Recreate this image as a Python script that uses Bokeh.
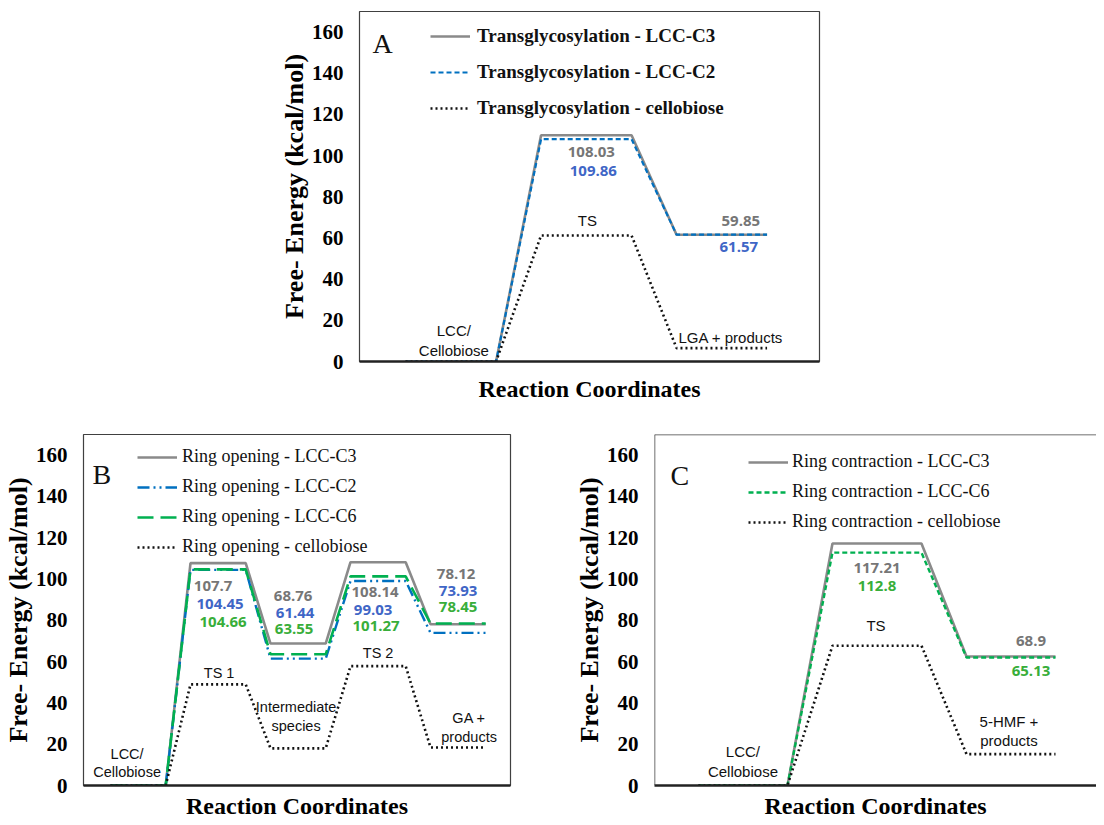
from bokeh.plotting import figure
from bokeh.models import (Range1d, FixedTicker, Legend, LegendItem, Label,
                          ColumnDataSource, Span, Spacer)
from bokeh.layouts import column, row
from bokeh.embed import file_html
from bokeh.resources import INLINE
from bokeh.core.properties import value

# ---------------- data ----------------
Y_TICKS = [0, 20, 40, 60, 80, 100, 120, 140, 160]

# Panel A : Transglycosylation
A_states = ["LCC/\nCellobiose", "TS", "LGA + products"]
A_c3 = [0, 109.9, 61.6]
A_c2 = [0, 108.0, 61.6]
A_cel = [0, 61.2, 6.5]
A_names = ["Transglycosylation - LCC-C3", "Transglycosylation - LCC-C2",
           "Transglycosylation - cellobiose"]
A_val_text = ["108.03", "109.86", "59.85", "61.57"]
A_val_state = [1, 1, 2, 2]
A_val_series = ["c3", "c2", "c3", "c2"]

# Panel B : Ring opening
B_states = ["LCC/\nCellobiose", "TS 1", "Intermediate\nspecies", "TS 2", "GA +\nproducts"]
B_c3 = [0, 107.7, 68.76, 108.14, 78.12]
B_c2 = [0, 104.45, 61.44, 99.03, 73.93]
B_c6 = [0, 104.66, 63.55, 101.27, 78.45]
B_cel = [0, 49.0, 18.0, 57.8, 18.4]
B_names = ["Ring opening - LCC-C3", "Ring opening - LCC-C2",
           "Ring opening - LCC-C6", "Ring opening - cellobiose"]
B_val_text = ["107.7", "104.45", "104.66", "68.76", "61.44", "63.55",
              "108.14", "99.03", "101.27", "78.12", "73.93", "78.45"]
B_val_state = [1, 1, 1, 2, 2, 2, 3, 3, 3, 4, 4, 4]
B_val_series = ["c3", "c2", "c6"] * 4

# Panel C : Ring contraction
C_states = ["LCC/\nCellobiose", "TS", "5-HMF +\nproducts"]
C_c3 = [0, 117.21, 62.5]
C_c6 = [0, 112.8, 62.0]
C_cel = [0, 67.7, 15.2]
C_names = ["Ring contraction - LCC-C3", "Ring contraction - LCC-C6",
           "Ring contraction - cellobiose"]
C_val_text = ["117.21", "112.8", "68.9", "65.13"]
C_val_state = [1, 1, 2, 2]
C_val_series = ["c3", "c6", "c3", "c6"]

# ---------------- styles / layout ----------------
GRAY, BLUE, GREEN, BLACK = "#8a8a8a", "#0070C0", "#00B050", "#111111"
TXT = {"c3": "#767676", "c2": "#3F66C6", "c6": "#38AE3A"}
SERIF = "Liberation Serif"
SANS = "Liberation Sans"

A_val_off = [(5, 17), (7, 36), (19, -14), (17, 12.5)]
A_ann_off = [(3, -21), (1, -15), (9, -11)]
B_val_off = [(-5, 23), (2, 41), (5, 59), (-5, -48), (-3, -31), (-4, -15),
             (-3, 30), (-5, 48), (-2, 64), (-2, -50), (0, -33), (0, -17)]
B_ann_off = [(-11, -22.5), (1, -11), (-2, -32), (0, -13), (11, -20)]
C_val_off = [(0, 25), (0, 43), (20, -15), (20, 15)]
C_ann_off = [(0, -24), (-1, -20), (-2, -23)]


def steps(vals, w):
    xs, ys = [], []
    for i, v in enumerate(vals):
        xs += [i, i + w]
        ys += [v, v]
    return xs, ys


def make_fig(fw, fh, xr, ml, mr, mt, mb, xls):
    p = figure(frame_width=fw, frame_height=fh, x_range=Range1d(*xr),
               y_range=Range1d(0, 170), min_border_left=ml, min_border_right=mr,
               min_border_top=mt, min_border_bottom=mb, output_backend="svg",
               toolbar_location=None, tools="")
    p.xgrid.visible = False
    p.ygrid.visible = False
    ya = p.yaxis[0]
    ya.ticker = FixedTicker(ticks=Y_TICKS)
    ya.major_label_text_font = SERIF
    ya.major_label_text_font_style = "bold"
    ya.major_label_text_font_size = "21px"
    ya.major_label_text_color = "black"
    ya.major_tick_line_color = None
    ya.minor_tick_line_color = None
    ya.major_tick_out = 0
    ya.major_tick_in = 0
    ya.axis_line_color = None
    ya.major_label_standoff = 16
    ya.axis_label = "Free- Energy (kcal/mol)"
    ya.axis_label_text_font = SERIF
    ya.axis_label_text_font_style = "bold"
    ya.axis_label_text_font_size = "26px"
    ya.axis_label_text_color = "black"
    ya.axis_label_standoff = 0
    xa = p.xaxis[0]
    xa.ticker = FixedTicker(ticks=[])
    xa.major_tick_line_color = None
    xa.minor_tick_line_color = None
    xa.major_tick_out = 0
    xa.major_tick_in = 0
    xa.major_label_standoff = 0
    xa.axis_line_width = 2.5
    xa.axis_line_color = "#222222"
    xa.axis_label = "Reaction Coordinates"
    xa.axis_label_text_font = SERIF
    xa.axis_label_text_font_style = "bold"
    xa.axis_label_text_font_size = "24px"
    xa.axis_label_text_color = "black"
    xa.axis_label_standoff = xls
    p.outline_line_color = "#404040"
    p.outline_line_width = 1.2
    return p


def add_series(p, vals, w, color, dash, width):
    xs, ys = steps(vals, w)
    return p.line(xs, ys, line_color=color, line_dash=dash, line_width=width)


def add_values(p, texts, states, series, top_vals, w, offs):
    src = ColumnDataSource(dict(
        x=[s + w / 2 for s in states],
        y=[top_vals[s] for s in states],
        t=texts,
        c=[TXT[k] for k in series],
        dx=[o[0] for o in offs],
        dy=[o[1] for o in offs]))
    p.text(x="x", y="y", text="t", source=src, text_color="c",
           x_offset="dx", y_offset="dy", text_font=value("Open Sans"),
           text_font_style="bold", text_font_size="15px",
           text_align="center", text_baseline="middle")


def add_states(p, states, cel, w, offs, size="15px"):
    src = ColumnDataSource(dict(
        x=[i + w / 2 for i in range(len(states))],
        y=cel,
        t=states,
        dx=[o[0] for o in offs],
        dy=[o[1] for o in offs]))
    p.text(x="x", y="y", text="t", source=src, text_color="#111111",
           x_offset="dx", y_offset="dy", text_font=value(SANS),
           text_font_size=size, text_align="center", text_baseline="middle",
           text_line_height=1.15)


def add_legend(p, items, loc, bold, size, spacing, standoff):
    lg = Legend(items=[LegendItem(label=n, renderers=[r]) for n, r in items],
                location=loc)
    lg.border_line_color = None
    lg.background_fill_alpha = 0
    lg.padding = 0
    lg.margin = 0
    lg.spacing = spacing
    lg.glyph_width = 40
    lg.glyph_height = 20
    lg.label_height = 20
    lg.label_standoff = standoff
    lg.label_text_font = SERIF
    lg.label_text_font_size = size
    lg.label_text_font_style = "bold" if bold else "normal"
    lg.label_text_color = "#111111"
    p.add_layout(lg)


def add_letter(p, letter, x, y):
    p.add_layout(Label(x=x, y=y, x_units="screen", y_units="screen", text=letter,
                       text_font=SERIF, text_font_size="28px",
                       text_baseline="alphabetic", text_color="#111111"))


# ---------------- Panel A ----------------
wA = 0.668
pA = make_fig(460, 350, (-0.34, 3.055), 80, 10, 11, 43, 14)
rA3 = add_series(pA, A_c3, wA, GRAY, "solid", 2.6)
rA2 = add_series(pA, A_c2, wA, BLUE, "5 3", 2.2)
rAc = add_series(pA, A_cel, wA, BLACK, "2 3", 2.6)
add_values(pA, A_val_text, A_val_state, A_val_series, A_c3, wA, A_val_off)
add_states(pA, A_states, A_cel, wA, A_ann_off, "15px")
add_legend(pA, list(zip(A_names, [rA3, rA2, rAc])), (71, 242), True, "19px", 14, 7)
add_letter(pA, "A", 13, 318)

# ---------------- Panel B ----------------
wB = 0.69
pB = make_fig(427, 351, (-0.3375, 5.0), 78, 61, 30, 33, 7)
rB3 = add_series(pB, B_c3, wB, GRAY, "solid", 2.6)
rB2 = add_series(pB, B_c2, wB, BLUE, "12 4 2 4 2 4", 2.4)
rB6 = add_series(pB, B_c6, wB, GREEN, "16 7", 2.6)
rBc = add_series(pB, B_cel, wB, BLACK, "2 3", 2.6)
add_values(pB, B_val_text, B_val_state, B_val_series, B_c3, wB, B_val_off)
add_states(pB, B_states, B_cel, wB, B_ann_off, "14.5px")
add_legend(pB, list(zip(B_names, [rB3, rB2, rB6, rBc])), (54, 228), False, "18px", 9, 5)
add_letter(pB, "B", 9, 311)

# ---------------- Panel C ----------------
wC = 0.664
xrC = (-0.328, 2.97)
pC = make_fig(442, 351, xrC, 80, 0, 30, 33, 7)
pC.outline_line_color = None
pC.add_layout(Span(location=170, dimension="width", line_color="#404040", line_width=1.5))
pC.add_layout(Span(location=xrC[0], dimension="height", line_color="#404040", line_width=1.5))
rC3 = add_series(pC, C_c3, wC, GRAY, "solid", 2.6)
rC6 = add_series(pC, C_c6, wC, GREEN, "5 3", 2.4)
rCc = add_series(pC, C_cel, wC, BLACK, "2 3", 2.6)
add_values(pC, C_val_text, C_val_state, C_val_series, C_c3, wC, C_val_off)
add_states(pC, C_states, C_cel, wC, C_ann_off, "15px")
add_legend(pC, list(zip(C_names, [rC3, rC6, rCc])), (94, 253), False, "18px", 9, 4)
add_letter(pC, "C", 16, 310)

layout = column(row(Spacer(width=276, height=404), pA), row(pB, pC))

open("out.html", "w").write(file_html(layout, INLINE))
